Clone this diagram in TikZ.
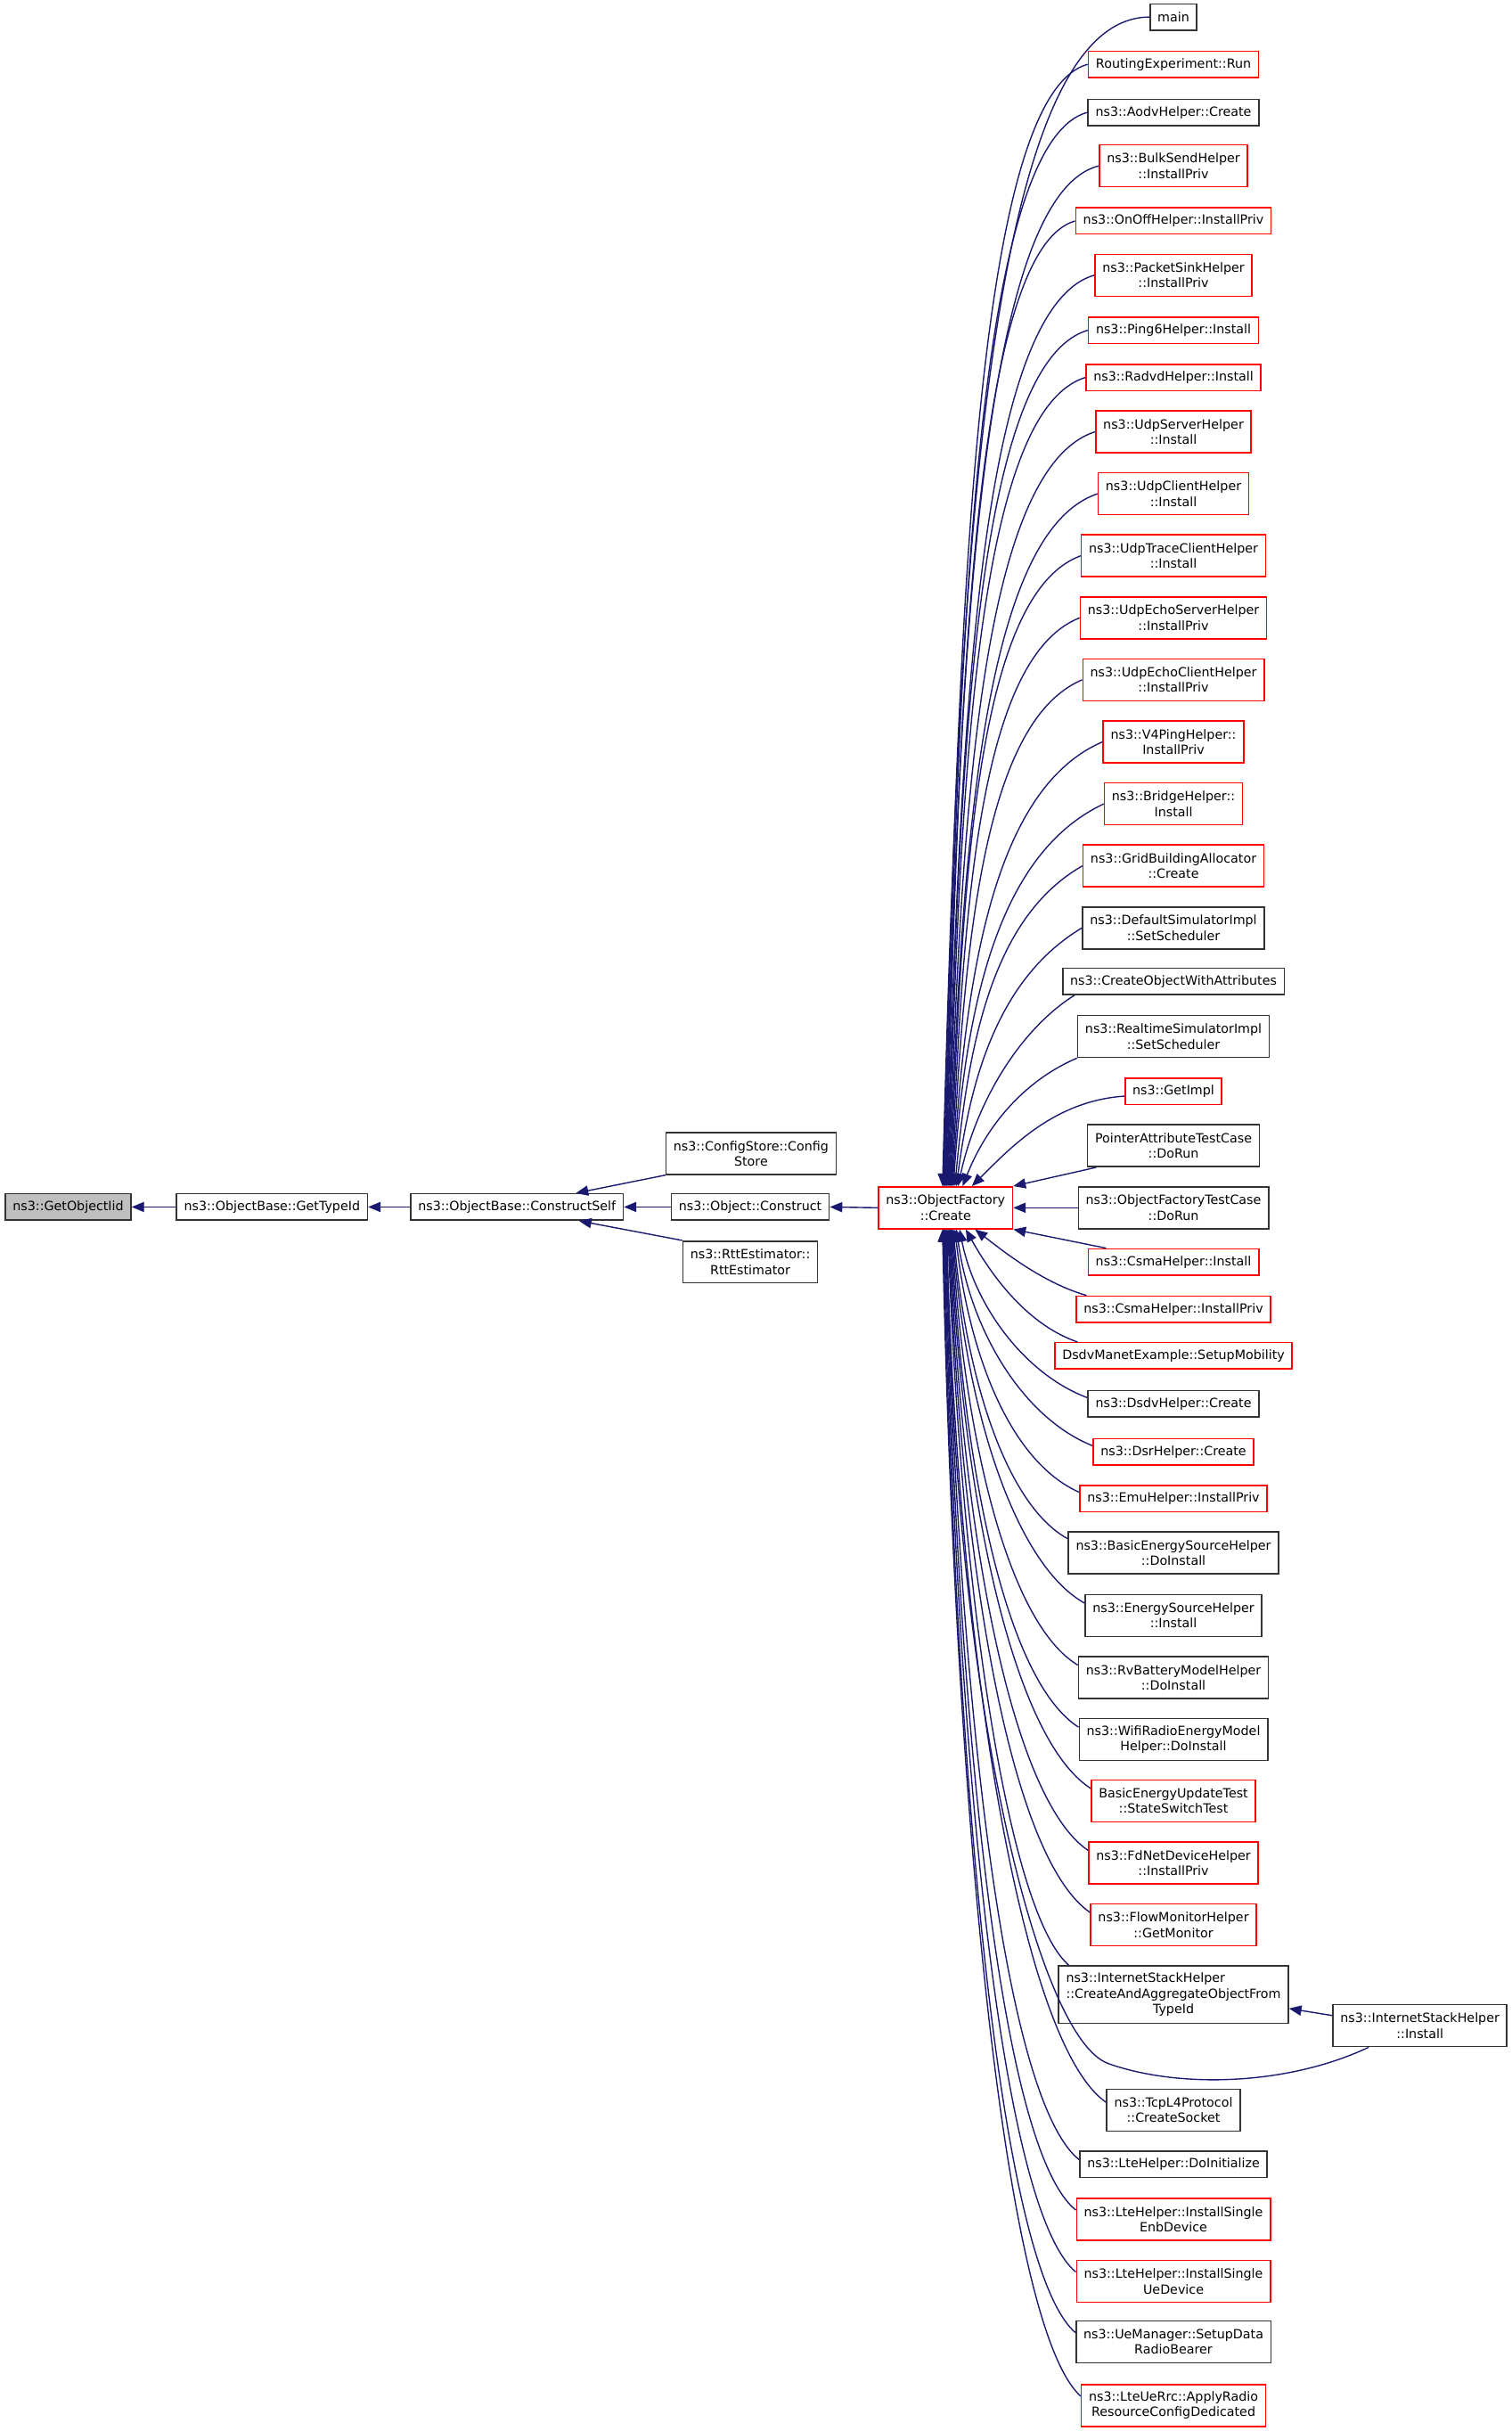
\documentclass[tikz,border=0pt]{standalone}
\usepackage{fontspec}
\setmainfont{DejaVu Sans}
\usetikzlibrary{arrows.meta}
\definecolor{midblue}{HTML}{191970}
\newcommand\dxfont{\fontsize{8.2}{10}\selectfont}
\tikzset{
    fnode/.style={draw=black!80, line width=0.9pt, fill=white, font=\dxfont, align=center, inner xsep=4.8pt, inner ysep=2pt, minimum height=17pt},
    fnodered/.style={fnode, draw=red},
    fnodecur/.style={fnode, fill=black!25},
    two/.style={minimum height=27pt},
    calls/.style={draw=midblue, line width=0.8pt, {Triangle[length=8pt,width=6.5pt]}-}
}
\begin{document}
\begin{tikzpicture}[x=1pt, y=1pt]
    \useasboundingbox (0,0) rectangle (975,-1568);
    \node[fnodecur] (getobjectiid) at (44,-778.5) {ns3::GetObjectIid};
    \node[fnode] (gettypeid) at (175.5,-778.5) {ns3::ObjectBase::GetTypeId};
    \node[fnode] (constructself) at (333.5,-778.5) {ns3::ObjectBase::ConstructSelf};
    \node[fnode, two] (configstore) at (484.5,-744) {ns3::ConfigStore::Config\\Store};
    \node[fnode] (construct) at (484,-778.5) {ns3::Object::Construct};
    \node[fnode, two] (rtt) at (484,-814) {ns3::RttEstimator::\\RttEstimator};
    \node[fnodered, two] (create) at (610,-779) {ns3::ObjectFactory\\::Create};
    \node[fnode] (main) at (757,-11) {main};
    \node[fnodered] (routing) at (757,-41.5) {RoutingExperiment::Run};
    \node[fnode] (aodv) at (757,-72.5) {ns3::AodvHelper::Create};
    \node[fnodered, two] (bulksend) at (757,-107) {ns3::BulkSendHelper\\::InstallPriv};
    \node[fnodered] (onoff) at (757,-142.5) {ns3::OnOffHelper::InstallPriv};
    \node[fnodered, two] (packetsink) at (757,-177.5) {ns3::PacketSinkHelper\\::InstallPriv};
    \node[fnodered] (ping6) at (757,-213) {ns3::Ping6Helper::Install};
    \node[fnodered] (radvd) at (757,-243.5) {ns3::RadvdHelper::Install};
    \node[fnodered, two] (udpserver) at (757,-278.5) {ns3::UdpServerHelper\\::Install};
    \node[fnodered, two] (udpclient) at (757,-318.5) {ns3::UdpClientHelper\\::Install};
    \node[fnodered, two] (udptrace) at (757,-358.5) {ns3::UdpTraceClientHelper\\::Install};
    \node[fnodered, two] (echoserver) at (757,-398.5) {ns3::UdpEchoServerHelper\\::InstallPriv};
    \node[fnodered, two] (echoclient) at (757,-438.5) {ns3::UdpEchoClientHelper\\::InstallPriv};
    \node[fnodered, two] (v4ping) at (757,-478.5) {ns3::V4PingHelper::\\InstallPriv};
    \node[fnodered, two] (bridge) at (757,-518.5) {ns3::BridgeHelper::\\Install};
    \node[fnodered, two] (grid) at (757,-558.5) {ns3::GridBuildingAllocator\\::Create};
    \node[fnode, two] (defaultsim) at (757,-598.5) {ns3::DefaultSimulatorImpl\\::SetScheduler};
    \node[fnode] (createobj) at (757,-633) {ns3::CreateObjectWithAttributes};
    \node[fnode, two] (realtime) at (757,-668.5) {ns3::RealtimeSimulatorImpl\\::SetScheduler};
    \node[fnodered] (getimpl) at (757,-704) {ns3::GetImpl};
    \node[fnode, two] (pointer) at (757,-739) {PointerAttributeTestCase\\::DoRun};
    \node[fnode, two] (oftest) at (757,-779) {ns3::ObjectFactoryTestCase\\::DoRun};
    \node[fnodered] (csmainst) at (757,-814) {ns3::CsmaHelper::Install};
    \node[fnodered] (csmapriv) at (757,-844.5) {ns3::CsmaHelper::InstallPriv};
    \node[fnodered] (dsdvmanet) at (757,-874.5) {DsdvManetExample::SetupMobility};
    \node[fnode] (dsdvhelper) at (757,-905.5) {ns3::DsdvHelper::Create};
    \node[fnodered] (dsr) at (757,-936.5) {ns3::DsrHelper::Create};
    \node[fnodered] (emu) at (757,-966.5) {ns3::EmuHelper::InstallPriv};
    \node[fnode, two] (basicenergy) at (757,-1001.5) {ns3::BasicEnergySourceHelper\\::DoInstall};
    \node[fnode, two] (energysource) at (757,-1042) {ns3::EnergySourceHelper\\::Install};
    \node[fnode, two] (rvbattery) at (757,-1082) {ns3::RvBatteryModelHelper\\::DoInstall};
    \node[fnode, two] (wifiradio) at (757,-1122) {ns3::WifiRadioEnergyModel\\Helper::DoInstall};
    \node[fnodered, two] (basicupdate) at (757,-1161.5) {BasicEnergyUpdateTest\\::StateSwitchTest};
    \node[fnodered, two] (fdnet) at (757,-1201.5) {ns3::FdNetDeviceHelper\\::InstallPriv};
    \node[fnodered, two] (flowmon) at (757,-1241.5) {ns3::FlowMonitorHelper\\::GetMonitor};
    \node[fnode, minimum height=37pt] (iscreate) at (757,-1286.5) {\rlap{ns3::InternetStackHelper}\phantom{::CreateAndAggregateObjectFrom}\\::CreateAndAggregateObjectFrom\\TypeId};
    \node[fnode, two] (isinstall) at (916,-1306.5) {ns3::InternetStackHelper\\::Install};
    \node[fnode, two] (tcpsocket) at (757,-1361) {ns3::TcpL4Protocol\\::CreateSocket};
    \node[fnode] (lteinit) at (757,-1396) {ns3::LteHelper::DoInitialize};
    \node[fnodered, two] (lteenb) at (757,-1431.5) {ns3::LteHelper::InstallSingle\\EnbDevice};
    \node[fnodered, two] (lteue) at (757,-1471.5) {ns3::LteHelper::InstallSingle\\UeDevice};
    \node[fnode, two] (uemanager) at (757,-1510.5) {ns3::UeManager::SetupData\\RadioBearer};
    \node[fnodered, two] (lteuerrc) at (757,-1551.5) {ns3::LteUeRrc::ApplyRadio\\ResourceConfigDedicated};
    \coordinate (isbend) at (715,-1331);
    \draw[calls] (getobjectiid.east) -- (gettypeid.west);
    \draw[calls] (gettypeid.east) -- (constructself.west);
    \draw[calls] ([xshift=38pt]constructself.north) -- (configstore.south west);
    \draw[calls] (constructself.east) -- (construct.west);
    \draw[calls] ([xshift=40pt]constructself.south) -- (rtt.north west);
    \draw[calls] (construct.east) -- (create.west);
    \draw[calls] ([xshift=-2pt]create.north) .. controls +(10,360) and +(-110,0) .. (main.west);
    \draw[calls] ([xshift=-1.5pt]create.north) .. controls +(10,345) and +(-75,-20) .. (routing.west);
    \draw[calls] ([xshift=-1pt]create.north) .. controls +(10,330) and +(-75,-20) .. (aodv.west);
    \draw[calls] ([xshift=-0.5pt]create.north) .. controls +(9,315) and +(-80,-20) .. (bulksend.west);
    \draw[calls] (create.north) .. controls +(9,300) and +(-68,-20) .. (onoff.west);
    \draw[calls] ([xshift=0.5pt]create.north) .. controls +(9,280) and +(-77,-22) .. (packetsink.west);
    \draw[calls] ([xshift=1pt]create.north) .. controls +(8,265) and +(-74,-22) .. (ping6.west);
    \draw[calls] ([xshift=1.5pt]create.north) .. controls +(8,250) and +(-72,-22) .. (radvd.west);
    \draw[calls] ([xshift=2pt]create.north) .. controls +(8,232) and +(-75,-24) .. (udpserver.west);
    \draw[calls] ([xshift=2.5pt]create.north) .. controls +(8,213) and +(-75,-25) .. (udpclient.west);
    \draw[calls] ([xshift=3pt]create.north) .. controls +(8,195) and +(-68,-25) .. (udptrace.west);
    \draw[calls] ([xshift=3.5pt]create.north) .. controls +(8,175) and +(-66,-26) .. (echoserver.west);
    \draw[calls] ([xshift=4pt]create.north) .. controls +(8,155) and +(-64,-27) .. (echoclient.west);
    \draw[calls] ([xshift=4.5pt]create.north) .. controls +(8,137) and +(-70,-30) .. (v4ping.west);
    \draw[calls] ([xshift=5pt]create.north) .. controls +(8,118) and +(-68,-32) .. (bridge.west);
    \draw[calls] ([xshift=6pt]create.north) .. controls +(9,98) and +(-56,-32) .. (grid.west);
    \draw[calls] ([xshift=7pt]create.north) .. controls +(10,78) and +(-50,-30) .. (defaultsim.west);
    \draw[calls] ([xshift=8pt]create.north) .. controls +(12,55) and +(-35,-22) .. ([xshift=8pt]createobj.south west);
    \draw[calls] ([xshift=11pt]create.north) .. controls +(15,38) and +(-35,-15) .. (realtime.south west);
    \draw[calls] ([xshift=17pt]create.north) .. controls +(25,25) and +(-45,-3) .. ([yshift=-3pt]getimpl.west);
    \draw[calls] (create.north east) -- ([xshift=6pt]pointer.south west);
    \draw[calls] (create.east) -- (oftest.west);
    \draw[calls] (create.south east) -- ([xshift=12pt]csmainst.north west);
    \draw[calls] ([xshift=19pt]create.south) .. controls +(18,-14) and +(-28,8) .. ([xshift=7pt]csmapriv.north west);
    \draw[calls] ([xshift=13pt]create.south) .. controls +(14,-25) and +(-35,12) .. ([xshift=15pt]dsdvmanet.north west);
    \draw[calls] ([xshift=9pt]create.south) .. controls +(10,-50) and +(-40,15) .. ([yshift=4pt]dsdvhelper.west);
    \draw[calls] ([xshift=7pt]create.south) .. controls +(9,-65) and +(-45,18) .. ([yshift=4pt]dsr.west);
    \draw[calls] ([xshift=6pt]create.south) .. controls +(9,-80) and +(-45,20) .. ([yshift=4pt]emu.west);
    \draw[calls] ([xshift=5pt]create.south) .. controls +(8,-95) and +(-40,22) .. ([yshift=9pt]basicenergy.west);
    \draw[calls] ([xshift=4.5pt]create.south) .. controls +(8,-115) and +(-45,25) .. ([yshift=8pt]energysource.west);
    \draw[calls] ([xshift=4pt]create.south) .. controls +(8,-135) and +(-45,27) .. ([yshift=8pt]rvbattery.west);
    \draw[calls] ([xshift=3.5pt]create.south) .. controls +(8,-155) and +(-47,30) .. ([yshift=8pt]wifiradio.west);
    \draw[calls] ([xshift=3pt]create.south) .. controls +(8,-175) and +(-50,32) .. ([yshift=8pt]basicupdate.west);
    \draw[calls] ([xshift=2.5pt]create.south) .. controls +(8,-195) and +(-50,34) .. ([yshift=8pt]fdnet.west);
    \draw[calls] ([xshift=2pt]create.south) .. controls +(8,-215) and +(-52,36) .. ([yshift=8pt]flowmon.west);
    \draw[calls] ([xshift=1.5pt]create.south) .. controls +(8,-230) and +(-40,35) .. ([xshift=7pt]iscreate.north west);
    \draw[calls] ([xshift=1pt]create.south) .. controls +(4,-307) and +(-45,16) .. (isbend) .. controls +(45,-16) and +(-53,-25) .. ([xshift=-33pt]isinstall.south);
    \draw[calls] ([yshift=-9pt]iscreate.east) -- ([yshift=6.5pt]isinstall.west);
    \draw[calls] ([xshift=0.5pt]create.south) .. controls +(8,-275) and +(-55,38) .. ([yshift=5pt]tcpsocket.west);
    \draw[calls] (create.south) .. controls +(8,-292) and +(-50,40) .. ([yshift=3pt]lteinit.west);
    \draw[calls] ([xshift=-0.5pt]create.south) .. controls +(8,-310) and +(-50,40) .. ([yshift=6pt]lteenb.west);
    \draw[calls] ([xshift=-1pt]create.south) .. controls +(8,-330) and +(-50,42) .. ([yshift=6pt]lteue.west);
    \draw[calls] ([xshift=-1.5pt]create.south) .. controls +(8,-350) and +(-50,43) .. ([yshift=6pt]uemanager.west);
    \draw[calls] ([xshift=-2pt]create.south) .. controls +(8,-370) and +(-50,45) .. ([yshift=6pt]lteuerrc.west);
\end{tikzpicture}
\end{document}
